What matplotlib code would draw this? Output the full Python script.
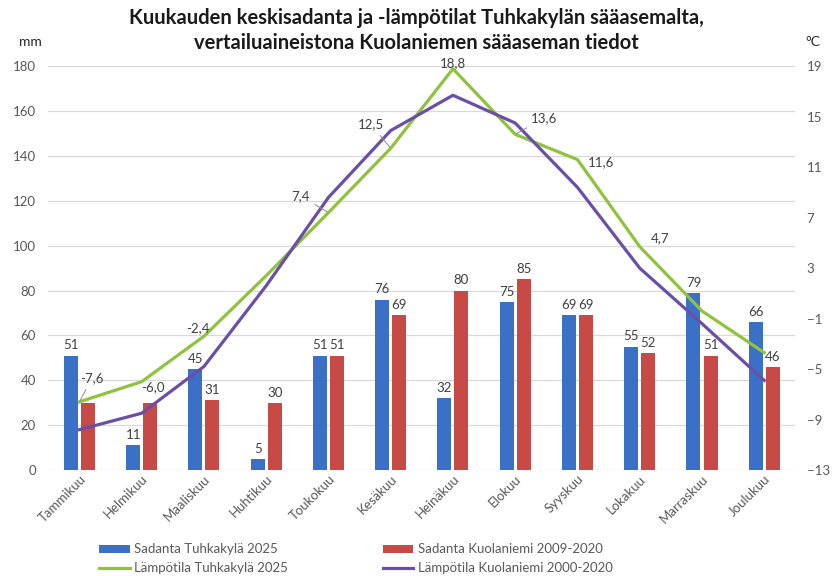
import matplotlib.pyplot as plt
import numpy as np

months = ['Tammikuu', 'Helmikuu', 'Maaliskuu', 'Huhtikuu', 'Toukokuu', 'Kesäkuu',
          'Heinäkuu', 'Elokuu', 'Syyskuu', 'Lokakuu', 'Marraskuu', 'Joulukuu']
rain_tuhka = [51, 11, 45, 5, 51, 76, 32, 75, 69, 55, 79, 66]
rain_kuola = [30, 30, 31, 30, 51, 69, 80, 85, 69, 52, 51, 46]
temp_tuhka = [-7.6, -6.0, -2.4, 2.4, 7.4, 12.5, 18.8, 13.6, 11.6, 4.7, -0.4, -3.7]
temp_kuola = [-9.8, -8.5, -4.8, 1.6, 8.6, 13.9, 16.7, 14.5, 9.4, 3.0, -1.4, -5.9]
# which temperature points carry a label (True) in the original
temp_labelled = [True, True, True, False, True, True, True, True, True, True, False, False]
kuola_bar_labelled = [False, False] + [True] * 10

c_blue = '#3a70c6'
c_red = '#c84a46'
c_green = '#8fc23e'
c_purple = '#6b4fa6'
c_text = '#595959'

plt.rcParams['font.family'] = ['Lato', 'DejaVu Sans']

fig = plt.figure(figsize=(8.32, 5.76), dpi=100)
ax = fig.add_axes([0.058, 0.184, 0.898, 0.701])
ax2 = ax.twinx()

x = np.arange(len(months))
w = 0.225
off = 0.137
b1 = ax.bar(x - off, rain_tuhka, w, color=c_blue, label='Sadanta Tuhkakylä 2025', zorder=2)
b2 = ax.bar(x + off, rain_kuola, w, color=c_red, label='Sadanta Kuolaniemi 2009-2020', zorder=2)
ax.bar_label(b1, labels=[str(v) for v in rain_tuhka], padding=3, fontsize=9.5, color='#404040')
ax.bar_label(b2, labels=[str(v) if s else '' for v, s in zip(rain_kuola, kuola_bar_labelled)],
             padding=3, fontsize=9.5, color='#404040')

ax.set_xlim(-0.5, 11.5)
ax.set_ylim(0, 180)
ax.set_yticks(range(0, 181, 20))
ax.grid(axis='y', color='#d9d9d9', lw=0.9, zorder=0)
ax.set_axisbelow(True)
for s in ax.spines.values():
    s.set_visible(False)
for s in ax2.spines.values():
    s.set_visible(False)
ax.tick_params(axis='y', length=0, labelsize=9.5, labelcolor=c_text, pad=9)
ax.tick_params(axis='x', length=0, labelsize=9.5, labelcolor=c_text, pad=2)
ax.set_xticks(x)
ax.set_xticklabels(months, rotation=45, ha='right', rotation_mode='anchor')

l1, = ax2.plot(x, temp_tuhka, color=c_green, lw=2.3, label='Lämpötila Tuhkakylä 2025', zorder=3)
l2, = ax2.plot(x, temp_kuola, color=c_purple, lw=2.3, label='Lämpötila Kuolaniemi 2000-2020', zorder=3)
ax2.set_ylim(-13, 19)
ax2.set_yticks(range(-13, 20, 4))
ax2.tick_params(axis='y', length=0, labelsize=9.5, labelcolor=c_text, pad=8)

# label offsets (points) for the Tuhkakylä temperature labels, leader line where the original has one
lab_off = [(9, 17), (8, -4), (-4, 6), (0, 0), (-20, 12), (-14, 17), (0, 4), (21, 12), (17, -2), (15, 6), (0, 0), (0, 0)]
leader = [True, False, False, False, True, True, False, True, False, False, False, False]
for i, v in enumerate(temp_tuhka):
    if not temp_labelled[i]:
        continue
    txt = f'{v:.1f}'.replace('.', ',')
    ap = dict(arrowstyle='-', color='#8c8c8c', lw=0.7, shrinkA=2, shrinkB=1) if leader[i] else None
    ax2.annotate(txt, (x[i], v), xytext=lab_off[i], textcoords='offset points',
                 ha='center', va='center', fontsize=9.5, color='#404040', arrowprops=ap, zorder=4)

fig.text(0.501, 0.969, 'Kuukauden keskisadanta ja -lämpötilat Tuhkakylän sääasemalta,',
         ha='center', va='center', fontsize=14.5, fontweight='bold', color='#1a1a1a')
fig.text(0.501, 0.926, 'vertailuaineistona Kuolaniemen sääaseman tiedot',
         ha='center', va='center', fontsize=14.5, fontweight='bold', color='#1a1a1a')
fig.text(0.037, 0.927, 'mm', ha='center', va='center', fontsize=10, color='#262626')
fig.text(0.977, 0.927, '°C', ha='center', va='center', fontsize=10, color='#262626')

leg = fig.legend([b1, l1, b2, l2], [b1.get_label(), l1.get_label(), b2.get_label(), l2.get_label()],
                 ncol=2, loc='lower left', bbox_to_anchor=(0.105, -0.017), frameon=False,
                 fontsize=9.5, columnspacing=7.2, handlelength=2.3, handleheight=0.55,
                 handletextpad=0.35, labelspacing=0.5, labelcolor=c_text)

fig.savefig('out.png', dpi=100)
